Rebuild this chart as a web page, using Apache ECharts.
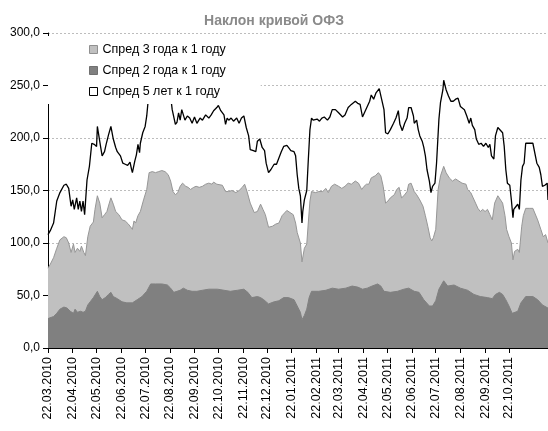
<!DOCTYPE html>
<html>
<head>
<meta charset="utf-8">
<title>Наклон кривой ОФЗ</title>
<script src="https://cdn.jsdelivr.net/npm/echarts@6/dist/echarts.min.js"></script>
<style>
  html, body { margin: 0; padding: 0; background: #fff; }
  #chart { width: 548px; height: 431px; }
</style>
</head>
<body>
<div id="chart"></div>
<script>
// calendar days starting at 22.03.2010
const startDay = Date.UTC(2010, 2, 22);
const dayCount = 629;

const tickLabels = [
  "22.03.2010", "22.04.2010", "22.05.2010", "22.06.2010", "22.07.2010",
  "22.08.2010", "22.09.2010", "22.10.2010", "22.11.2010", "22.12.2010",
  "22.01.2011", "22.02.2011", "22.03.2011", "22.04.2011", "22.05.2011",
  "22.06.2011", "22.07.2011", "22.08.2011", "22.09.2011", "22.10.2011"
];

const seriesNames = ["Спред 3 года к 1 году", "Спред 2 года к 1 году", "Спред 5 лет к 1 году"];

// [day since 22.03.2010, basis points]
const spread3y = [
  [0,76],[3,80],[7,86],[11,95],[15,103],[20,106],[23,105],[26,100],[29,91],[32,99],[34,91],[37,95],
  [40,92],[42,97],[45,91],[47,88],[50,106],[53,116],[57,120],[59,132],[62,145],[65,138],[68,124],
  [71,127],[74,130],[77,138],[79,143],[82,137],[85,130],[89,127],[93,122],[97,121],[101,118],
  [106,113],[108,121],[110,119],[113,126],[116,130],[120,141],[124,151],[127,167],[131,168],
  [135,167],[139,168],[143,169],[147,168],[151,165],[154,159],[157,149],[160,146],[163,148],
  [166,154],[169,157],[173,154],[176,153],[179,151],[183,153],[186,154],[190,153],[194,154],
  [198,156],[202,157],[206,156],[208,158],[212,156],[214,157],[219,155],[223,149],[227,149],
  [231,150],[236,148],[240,150],[244,153],[247,156],[250,149],[254,138],[259,129],[263,130],
  [267,137],[270,132],[273,127],[277,115],[282,116],[286,118],[290,119],[294,126],[300,131],
  [304,129],[308,127],[311,119],[313,110],[317,100],[319,82],[322,95],[325,99],[327,120],
  [329,140],[331,149],[333,149],[336,148],[340,149],[345,149],[349,152],[352,148],[356,154],
  [360,156],[365,154],[369,152],[373,154],[377,157],[381,156],[386,159],[390,157],[394,151],
  [397,154],[400,156],[403,156],[406,162],[411,164],[415,167],[418,164],[421,154],[424,138],
  [427,140],[430,143],[435,146],[438,151],[441,153],[444,143],[447,145],[451,149],[453,156],
  [456,157],[460,149],[463,146],[467,141],[471,135],[474,126],[477,116],[480,105],[482,102],
  [484,105],[487,113],[490,151],[493,164],[497,173],[500,167],[504,162],[508,159],[512,161],
  [516,159],[520,157],[525,156],[527,151],[531,148],[534,143],[537,138],[540,133],[543,130],
  [546,132],[549,130],[552,132],[555,127],[558,122],[561,138],[565,145],[567,145],[571,138],
  [574,126],[576,113],[579,106],[582,100],[584,84],[586,92],[590,94],[592,91],[595,116],
  [597,126],[600,133],[605,133],[609,133],[611,132],[615,122],[619,113],[622,106],[625,108],
  [628,100]
];

const spread2y = [
  [0,28],[7,30],[11,33],[15,37],[20,39],[24,38],[28,35],[32,33],[34,37],[37,34],[41,35],[44,34],
  [47,35],[50,41],[53,44],[57,48],[59,49],[62,54],[65,49],[68,46],[72,48],[76,51],[79,53],
  [82,49],[87,47],[93,44],[99,43],[106,43],[112,46],[118,49],[124,54],[129,61],[135,61],
  [143,61],[150,60],[154,57],[158,53],[162,54],[166,55],[170,57],[175,55],[181,54],[187,54],
  [194,55],[202,56],[213,56],[221,55],[229,54],[238,55],[246,56],[251,53],[256,48],[263,49],
  [267,48],[271,46],[277,42],[284,44],[290,45],[296,48],[302,48],[309,46],[313,40],[317,34],
  [319,27],[322,31],[325,37],[328,48],[331,54],[340,54],[349,55],[357,57],[365,56],[374,57],
  [382,59],[389,58],[395,56],[401,57],[407,59],[414,61],[418,59],[422,54],[430,53],[439,54],
  [447,56],[453,57],[460,54],[466,53],[472,46],[479,40],[483,40],[487,45],[491,56],[497,64],
  [502,59],[510,60],[518,57],[527,55],[535,51],[543,49],[552,48],[558,47],[562,51],[567,53],
  [571,51],[575,46],[579,40],[583,33],[590,35],[594,43],[600,49],[609,49],[615,46],[621,41],
  [628,38]
];

const spread5y = [
  [0,108],[3,112],[7,119],[11,140],[15,148],[20,155],[23,156],[26,152],[29,135],[31,141],
  [33,132],[36,143],[38,132],[40,140],[42,130],[44,140],[46,127],[49,160],[52,173],[55,195],
  [58,194],[61,192],[62,211],[64,211],[66,192],[68,183],[71,187],[73,194],[76,203],[79,211],
  [82,199],[85,191],[87,187],[91,183],[94,176],[97,175],[100,174],[103,177],[105,170],[106,167],
  [109,178],[111,184],[113,194],[115,186],[116,195],[119,205],[122,211],[124,221],[126,237],
  [127,243],[131,252],[137,258],[143,254],[149,249],[154,240],[156,227],[160,213],[162,215],
  [164,224],[166,217],[168,227],[172,217],[175,221],[178,219],[181,214],[184,220],[187,214],
  [191,219],[194,217],[198,222],[202,219],[205,222],[208,226],[212,229],[214,231],[217,226],
  [221,222],[223,213],[225,219],[227,217],[230,219],[233,216],[237,219],[240,214],[243,219],
  [246,221],[249,210],[252,202],[254,189],[258,188],[261,187],[263,197],[266,199],[269,191],
  [272,188],[274,176],[277,167],[280,170],[284,175],[287,175],[290,181],[293,187],[296,192],
  [300,193],[302,191],[305,188],[309,187],[311,183],[313,165],[315,152],[317,145],[319,119],
  [320,130],[322,141],[325,150],[327,180],[329,208],[331,219],[333,217],[335,216],[338,218],
  [341,216],[344,219],[347,220],[349,221],[351,217],[354,220],[357,227],[361,227],[365,224],
  [370,220],[373,222],[377,229],[381,232],[386,235],[389,233],[392,232],[395,220],[398,225],
  [401,230],[404,235],[406,241],[409,237],[412,243],[416,247],[419,237],[422,227],[424,205],
  [427,204],[430,208],[434,214],[437,219],[440,226],[442,213],[445,207],[448,214],[451,219],
  [453,229],[456,229],[459,221],[460,214],[463,217],[465,208],[467,202],[470,197],[472,191],
  [474,183],[476,170],[479,159],[481,148],[483,154],[486,157],[488,176],[491,218],[493,234],
  [496,246],[497,255],[500,246],[503,240],[506,235],[509,235],[512,237],[515,238],[518,230],
  [523,227],[526,221],[529,214],[531,219],[533,212],[536,208],[538,199],[541,194],[544,195],
  [547,192],[550,195],[553,191],[555,194],[557,183],[560,180],[562,202],[565,210],[567,211],
  [571,205],[573,192],[575,170],[577,157],[580,155],[582,141],[584,124],[585,132],[588,135],
  [590,137],[592,132],[594,160],[596,173],[598,176],[600,195],[605,195],[609,195],[611,194],
  [614,176],[617,172],[619,165],[621,154],[624,155],[627,157],[628,141]
];

const font = "Liberation Sans, Arial, sans-serif";

function pad(n) {
  return n < 10 ? "0" + n : "" + n;
}

const categories = [];
for (let i = 0; i < dayCount; i++) {
  const d = new Date(startDay + i * 86400000);
  categories.push(pad(d.getUTCDate()) + "." + pad(d.getUTCMonth() + 1) + "." + d.getUTCFullYear());
}

function toSeries(pairs) {
  const arr = new Array(dayCount).fill(null);
  pairs.forEach(([day, v]) => { arr[day] = v; });
  return arr;
}

const showTick = (idx, val) => tickLabels.indexOf(val) !== -1;

const chart = echarts.init(document.getElementById("chart"));
chart.setOption({
  animation: false,
  backgroundColor: "#fff",
  title: {
    text: "Наклон кривой ОФЗ",
    left: "center",
    top: 9,
    textStyle: { fontFamily: font, fontSize: 14, fontWeight: "bold", color: "#8a8a8a" }
  },
  legend: {
    orient: "vertical",
    left: 48,
    top: 36,
    backgroundColor: "#fff",
    padding: [6, 35, 5, 41],
    itemWidth: 8,
    itemHeight: 8,
    itemGap: 6,
    icon: "rect",
    textStyle: { fontFamily: font, fontSize: 12.5, lineHeight: 15, color: "#000" },
    data: [
      { name: seriesNames[0], itemStyle: { color: "#c0c0c0", borderColor: "#909090", borderWidth: 1 } },
      { name: seriesNames[1], itemStyle: { color: "#808080", borderColor: "#707070", borderWidth: 1 } },
      { name: seriesNames[2], itemStyle: { color: "#fff", borderColor: "#000", borderWidth: 1 }, lineStyle: { width: 0 } }
    ]
  },
  grid: { left: 48, right: 0, top: 33, bottom: 83, containLabel: false, outerBoundsMode: "none" },
  xAxis: {
    type: "category",
    data: categories,
    boundaryGap: false,
    axisLine: { lineStyle: { color: "#000", width: 1 } },
    axisTick: { interval: showTick, length: 5, lineStyle: { color: "#000" } },
    axisLabel: { interval: showTick, rotate: 90, margin: 9, fontFamily: font, fontSize: 12.5, color: "#000" },
    splitLine: { show: false }
  },
  yAxis: {
    type: "value",
    min: 0,
    max: 300,
    interval: 50,
    axisLine: { show: true, lineStyle: { color: "#000", width: 1 } },
    axisTick: { show: true, length: 5, lineStyle: { color: "#000" } },
    axisLabel: {
      margin: 8, fontFamily: font, fontSize: 12, color: "#000",
      formatter: v => v.toFixed(1).replace(".", ",")
    },
    splitLine: { lineStyle: { color: "#bdbdbd", type: [2, 2] } }
  },
  series: [
    {
      name: seriesNames[0], type: "line", data: toSeries(spread3y),
      connectNulls: true, symbol: "none",
      itemStyle: { color: "#c0c0c0" },
      lineStyle: { color: "#969696", width: 1 },
      areaStyle: { color: "#c0c0c0", opacity: 1 }
    },
    {
      name: seriesNames[1], type: "line", data: toSeries(spread2y),
      connectNulls: true, symbol: "none",
      itemStyle: { color: "#808080" },
      lineStyle: { color: "#808080", width: 1 },
      areaStyle: { color: "#808080", opacity: 1 }
    },
    {
      name: seriesNames[2], type: "line", data: toSeries(spread5y),
      connectNulls: true, symbol: "none",
      itemStyle: { color: "#000" },
      lineStyle: { color: "#000", width: 1.3 }
    }
  ]
});
</script>
</body>
</html>
